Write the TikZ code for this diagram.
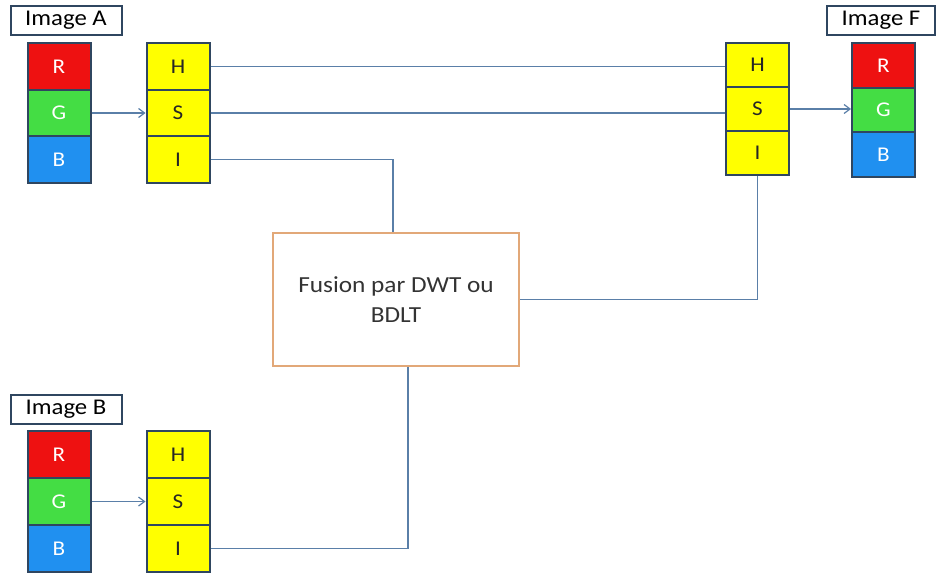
\documentclass[tikz,border=0pt]{standalone}
\usepackage{fontspec}
\setmainfont{Carlito}[FakeStretch=1.1]
\usetikzlibrary{arrows.meta}
\definecolor{cred}{HTML}{EE1111}
\definecolor{cgreen}{HTML}{44DD44}
\definecolor{cblue}{HTML}{2090F0}
\definecolor{cyel}{HTML}{FFFF00}
\definecolor{cbord}{HTML}{2F4660}
\definecolor{cline}{HTML}{5A7FA8}
\definecolor{corange}{HTML}{E2A878}
\tikzset{
  cell/.style={draw=cbord, line width=2pt, minimum width=63pt, inner sep=0pt, font=\fontsize{21}{24}\selectfont},
  rgbcell/.style={cell, text=white},
  hsicell/.style={cell, fill=cyel, text=black!85},
  lab/.style={draw=cbord, line width=2pt, fill=white, minimum width=111pt, minimum height=29pt, inner sep=0pt, font=\fontsize{22.5}{26}\selectfont},
  conn/.style={draw=cline, line width=1.2pt},
  arr/.style={conn, -{Straight Barb[length=6pt,width=9pt]}}
}
\begin{document}
\begin{tikzpicture}[x=1pt,y=-1pt]
\useasboundingbox (0,0) rectangle (936,575);
% Image A
\node[lab] (labA) at (66,20.5) {Image A};
\node[rgbcell, fill=cred,   minimum height=46.7pt] (aR) at (59,66.3) {R};
\node[rgbcell, fill=cgreen, minimum height=46.7pt] (aG) at (59,113) {G};
\node[rgbcell, fill=cblue,  minimum height=46.7pt] (aB) at (59,159.7) {B};
\node[hsicell, minimum height=46.7pt] (aH) at (178,66.3) {H};
\node[hsicell, minimum height=46.7pt] (aS) at (178,113) {S};
\node[hsicell, minimum height=46.7pt] (aI) at (178,159.7) {I};
% Image F
\node[lab, minimum width=108pt] (labF) at (881,20.5) {Image F};
\node[rgbcell, fill=cred,   minimum height=44.7pt] (fR) at (883.5,65.3) {R};
\node[rgbcell, fill=cgreen, minimum height=44.7pt] (fG) at (883.5,110) {G};
\node[rgbcell, fill=cblue,  minimum height=44.7pt] (fB) at (883.5,154.7) {B};
\node[hsicell, minimum height=44pt] (fH) at (757.5,65) {H};
\node[hsicell, minimum height=44pt] (fS) at (757.5,109) {S};
\node[hsicell, minimum height=44pt] (fI) at (757.5,153) {I};
% Image B
\node[lab] (labB) at (66,409.5) {Image B};
\node[rgbcell, fill=cred,   minimum height=47pt] (bR) at (59,454.5) {R};
\node[rgbcell, fill=cgreen, minimum height=47pt] (bG) at (59,501.5) {G};
\node[rgbcell, fill=cblue,  minimum height=47pt] (bB) at (59,548.5) {B};
\node[hsicell, minimum height=47pt] (bH) at (178,454.5) {H};
\node[hsicell, minimum height=47pt] (bS) at (178,501.5) {S};
\node[hsicell, minimum height=47pt] (bI) at (178,548.5) {I};
% Fusion box
\node[draw=corange, line width=2.5pt, minimum width=246pt, minimum height=133pt, align=center, font=\fontsize{23}{30}\selectfont, text=black!80] (fus) at (396,299.5) {Fusion par DWT ou\\BDLT};
% connectors
\draw[arr] (aG.east) -- (aS.west);
\draw[arr] (bG.east) -- (bS.west);
\draw[arr] (fS.east) -- (fS.east -| fG.west);
\draw[conn] (aH.east) -- (aH.east -| fH.west);
\draw[conn] (aS.east) -- (aS.east -| fS.west);
\draw[conn] (aI.east) -| ([xshift=-3pt]fus.north);
\draw[conn] (fus.east) -| (fI.south);
\draw[conn] (bI.east) -| ([xshift=12pt]fus.south);
\end{tikzpicture}
\end{document}
